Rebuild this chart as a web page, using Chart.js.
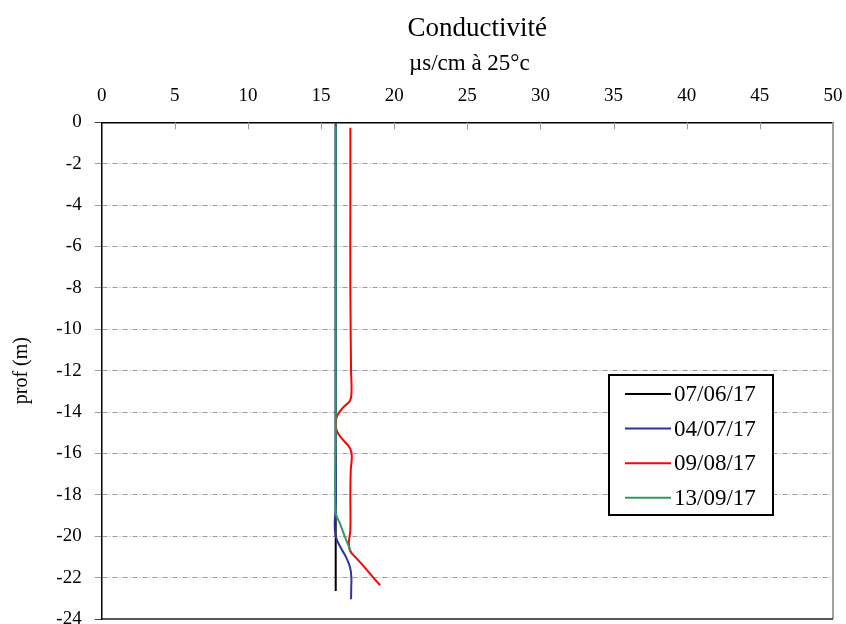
<!DOCTYPE html>
<html>
<head>
<meta charset="utf-8">
<script src="https://cdn.jsdelivr.net/npm/chart.js@4.4.0/dist/chart.umd.min.js"></script>
<style>
  html, body { margin: 0; padding: 0; background: #fff; }
  #wrap { width: 846px; height: 624px; }
</style>
</head>
<body>
<div id="wrap"><canvas id="chart" width="846" height="624"></canvas></div>
<script>
// Conductivity profiles vs depth
var SERIF = "'Liberation Serif', 'Times New Roman', serif";

var chartTitle = 'Conductivité';
var chartSubtitle = 'µs/cm à 25°c';
var yTitle = 'prof (m)';

var seriesLabels = ['07/06/17', '04/07/17', '09/08/17', '13/09/17'];
var seriesColors = ['#000000', '#333399', '#ff0000', '#339966'];

var xTickValues = [0, 5, 10, 15, 20, 25, 30, 35, 40, 45, 50];
var yTickValues = [0, -2, -4, -6, -8, -10, -12, -14, -16, -18, -20, -22, -24];

// 07/06/17
var depth0706 = [-0.1, -5, -10, -15, -20, -22.65];
var cond0706  = [16.0, 16.0, 16.0, 16.0, 16.0, 16.0];

// 04/07/17
var depth0407 = [-0.05, -5, -10, -15, -18.6, -19.4, -20.0, -20.5, -21.0, -21.5, -22.0, -22.5, -23.05];
var cond0407  = [16.0, 16.0, 16.0, 16.0, 16.0, 15.93, 16.0, 16.3, 16.7, 16.98, 17.07, 17.06, 17.05];

// 09/08/17
var depth0908 = [-0.26, -4, -8, -12, -13.0, -13.45, -13.75, -14.15, -14.55, -14.95, -15.35, -15.75, -16.15, -16.8, -18, -19.7, -20.3, -20.7, -21.08, -21.49, -22.0, -22.37];
var cond0908  = [17.0, 17.0, 17.0, 17.05, 17.08, 16.98, 16.55, 16.12, 16.0, 16.1, 16.5, 16.98, 17.1, 17.03, 17.0, 17.0, 16.9, 16.98, 17.44, 17.96, 18.57, 19.03];

// 13/09/17
var depth1309 = [-0.15, -5, -10, -15, -18.85, -19.4, -20.05, -20.72];
var cond1309  = [16.0, 16.0, 16.0, 16.0, 16.0, 16.3, 16.64, 17.03];

var seriesDepths = [depth0706, depth0407, depth0908, depth1309];
var seriesValues = [cond0706, cond0407, cond0908, cond1309];

function _points(depths, values) {
    return depths.map(function (d, i) { return { x: values[i], y: d }; });
}

var datasets = seriesLabels.map(function (label, i) {
    return {
        label: label,
        data: _points(seriesDepths[i], seriesValues[i]),
        borderColor: seriesColors[i],
        backgroundColor: seriesColors[i],
        borderWidth: 2,
        pointRadius: 0,
        tension: 0.4,
        fill: false,
        // later series on top (green covers the others near 16)
        order: seriesLabels.length - i,
    };
});

// Title, frame, inside ticks and boxed legend
var decorPlugin = {
    id: 'decor',
    afterDatasetsDraw: function (chart) {
        var ctx = chart.ctx;
        var a = chart.chartArea;
        var xs = chart.scales.x;
        ctx.save();
        // right border (grey) and bottom border (dark)
        ctx.strokeStyle = '#a0a0a0';
        ctx.lineWidth = 2;
        ctx.beginPath();
        ctx.moveTo(a.right, a.top);
        ctx.lineTo(a.right, a.bottom);
        ctx.stroke();
        ctx.strokeStyle = '#222';
        ctx.lineWidth = 1.5;
        ctx.beginPath();
        ctx.moveTo(a.left, a.bottom);
        ctx.lineTo(a.right, a.bottom);
        ctx.stroke();
        // x tick marks pointing inside from the top axis
        ctx.strokeStyle = '#999';
        ctx.lineWidth = 1;
        xTickValues.forEach(function (v) {
            if (v === xTickValues[0] || v === xTickValues[xTickValues.length - 1]) return;
            var px = Math.round(xs.getPixelForValue(v)) + 0.5;
            ctx.beginPath();
            ctx.moveTo(px, a.top);
            ctx.lineTo(px, a.top + 7);
            ctx.stroke();
        });
        ctx.restore();
    },
    afterDraw: function (chart) {
        var ctx = chart.ctx;
        var a = chart.chartArea;
        var mid = (a.left + a.right) / 2;
        ctx.save();
        ctx.fillStyle = '#000';
        ctx.textAlign = 'center';
        ctx.textBaseline = 'alphabetic';
        ctx.font = '27px ' + SERIF;
        ctx.fillText(chartTitle, mid + 10, 36);
        ctx.font = '23px ' + SERIF;
        ctx.fillText(chartSubtitle, mid + 2, 70);

        // legend box
        var bx = 609, by = 375, bw = 164, bh = 140;
        ctx.fillStyle = '#fff';
        ctx.fillRect(bx, by, bw, bh);
        ctx.strokeStyle = '#000';
        ctx.lineWidth = 2;
        ctx.strokeRect(bx, by, bw, bh);
        ctx.font = '23px ' + SERIF;
        ctx.textAlign = 'left';
        ctx.textBaseline = 'middle';
        seriesLabels.forEach(function (label, i) {
            var cy = by + 19 + i * 34.6;
            ctx.strokeStyle = seriesColors[i];
            ctx.lineWidth = 2;
            ctx.beginPath();
            ctx.moveTo(bx + 16, cy);
            ctx.lineTo(bx + 62, cy);
            ctx.stroke();
            ctx.fillStyle = '#000';
            ctx.fillText(label, bx + 65, cy + 1);
        });
        ctx.restore();
    },
};

new Chart(document.getElementById('chart'), {
    type: 'line',
    data: { datasets: datasets },
    options: {
        responsive: false,
        animation: false,
        layout: { padding: { left: 10, right: 13, top: 75, bottom: 5 } },
        plugins: {
            legend: { display: false },
            tooltip: { enabled: false },
        },
        scales: {
            x: {
                type: 'linear',
                position: 'top',
                min: 0,
                max: 50,
                afterBuildTicks: function (scale) {
                    scale.ticks = xTickValues.map(function (v) { return { value: v }; });
                },
                afterFit: function (scale) {
                    scale.height = 47.3;
                    scale.paddingLeft = 0;
                    scale.paddingRight = 0;
                },
                grid: { display: false, drawTicks: false },
                border: { display: true, color: '#000', width: 1.5 },
                ticks: {
                    color: '#000',
                    padding: 14.6,
                    maxRotation: 0,
                    autoSkip: false,
                    font: { family: SERIF, size: 19 },
                },
            },
            y: {
                type: 'linear',
                position: 'left',
                min: -24,
                max: 0,
                afterBuildTicks: function (scale) {
                    scale.ticks = yTickValues.map(function (v) { return { value: v }; });
                },
                afterFit: function (scale) {
                    scale.width = 91.7;
                    scale.paddingTop = 0;
                    scale.paddingBottom = 0;
                },
                grid: {
                    display: true,
                    drawTicks: true,
                    tickLength: 7,
                    lineWidth: 1,
                    color: function (c) {
                        var v = c.tick && c.tick.value;
                        return (v === 0 || v === -24) ? 'rgba(0,0,0,0)' : '#9a9a9a';
                    },
                    tickColor: function (c) {
                        var v = c.tick && c.tick.value;
                        return (v === 0 || v === -24) ? '#444' : '#9a9a9a';
                    },
                },
                border: { display: true, color: '#000', width: 1.5, dash: [5, 2, 1, 2] },
                ticks: {
                    color: '#000',
                    padding: 13,
                    autoSkip: false,
                    font: { family: SERIF, size: 19 },
                    callback: function (value) { return String(value); },
                },
                title: {
                    display: true,
                    text: yTitle,
                    color: '#000',
                    padding: 0,
                    font: { family: SERIF, size: 20 },
                },
            },
        },
    },
    plugins: [decorPlugin],
});
</script>
</body>
</html>
